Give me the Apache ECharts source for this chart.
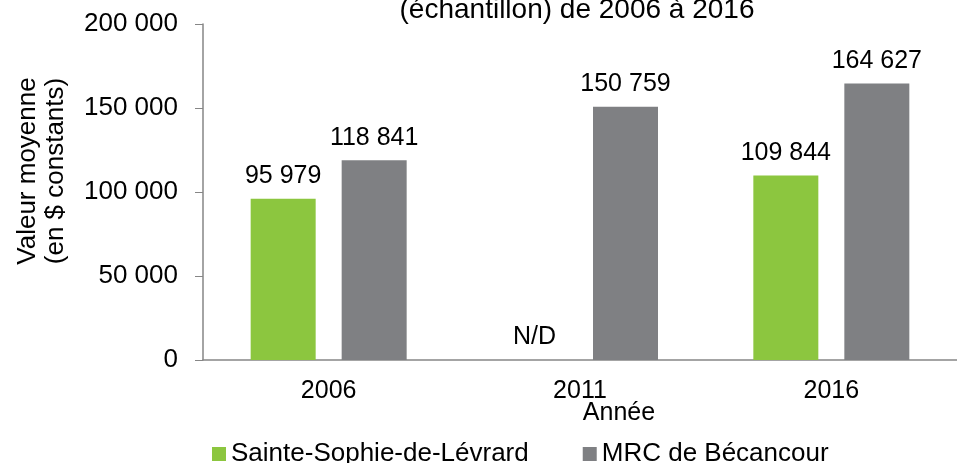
<!DOCTYPE html>
<html>
<head>
<meta charset="utf-8">
<script src="https://cdn.jsdelivr.net/npm/echarts@6/dist/echarts.min.js"></script>
<style>
  html, body { margin: 0; padding: 0; background: #fff; }
  #chart { width: 957px; height: 463px; }
</style>
</head>
<body>
<div id="chart"></div>
<script>
const years = ["2006", "2011", "2016"];
const sainteSophie = [95979, null, 109844];
const mrcBecancour = [118841, 150759, 164627];
const yTicks = [0, 50000, 100000, 150000, 200000];

const font = "Liberation Sans, Arial, sans-serif";

function fmt(v) {
  return String(v).replace(/\B(?=(\d{3})+(?!\d))/g, " ");
}

// N/D : pas de donnée, on garde une barre vide avec l'étiquette
const greenData = sainteSophie.map(function (v) {
  if (v === null) {
    return { value: 0, label: { formatter: "N/D" } };
  }
  return v;
});

const barLabel = {
  show: true,
  position: "top",
  distance: 10,
  fontFamily: font,
  fontSize: 25,
  color: "#000",
  formatter: function (p) { return fmt(p.value); },
};

const chart = echarts.init(document.getElementById("chart"));
chart.setOption({
  animation: false,
  backgroundColor: "#fff",
  textStyle: { fontFamily: font },
  title: {
    text: "(échantillon) de 2006 à 2016",
    left: 572,
    textAlign: "center",
    top: -9,
    textStyle: { fontFamily: font, fontSize: 28, fontWeight: "normal", color: "#000" },
  },
  legend: {
    top: 436,
    left: 207,
    itemWidth: 14,
    itemHeight: 14,
    itemGap: 54,
    icon: "rect",
    textStyle: { fontFamily: font, fontSize: 26, color: "#000" },
    data: ["Sainte-Sophie-de-Lévrard", "MRC de Bécancour"],
  },
  grid: {
    left: 203,
    right: -13,
    top: 24,
    bottom: 103,
  },
  xAxis: {
    type: "category",
    data: years,
    name: "Année",
    nameLocation: "middle",
    nameGap: 41,
    nameMoveOverlap: false,
    nameTextStyle: { fontFamily: font, fontSize: 25, color: "#000", padding: [0, 0, 0, 78] },
    axisLine: { lineStyle: { color: "#868686", width: 1.5 } },
    axisTick: { show: false },
    axisLabel: { fontFamily: font, fontSize: 25, color: "#000", margin: 19 },
  },
  yAxis: {
    type: "value",
    min: yTicks[0],
    max: yTicks[yTicks.length - 1],
    interval: yTicks[1] - yTicks[0],
    name: "Valeur moyenne\n(en $ constants)",
    nameLocation: "middle",
    nameGap: 133,
    nameRotate: 90,
    nameTextStyle: { fontFamily: font, fontSize: 26, color: "#000", lineHeight: 28, padding: [0, 0, 0, 42] },
    axisLine: { show: true, lineStyle: { color: "#868686", width: 1.5 } },
    axisTick: { show: true, inside: false, length: 8, lineStyle: { color: "#868686" } },
    splitLine: { show: false },
    axisLabel: {
      fontFamily: font,
      fontSize: 26,
      color: "#000",
      margin: 25,
      formatter: function (v) { return fmt(v); },
    },
  },
  series: [
    {
      name: "Sainte-Sophie-de-Lévrard",
      type: "bar",
      data: greenData,
      barWidth: 65,
      barGap: "40%",
      itemStyle: { color: "#8cc63f" },
      label: barLabel,
    },
    {
      name: "MRC de Bécancour",
      type: "bar",
      data: mrcBecancour,
      barWidth: 65,
      barGap: "40%",
      itemStyle: { color: "#7f8083" },
      label: barLabel,
    },
  ],
});
</script>
</body>
</html>
